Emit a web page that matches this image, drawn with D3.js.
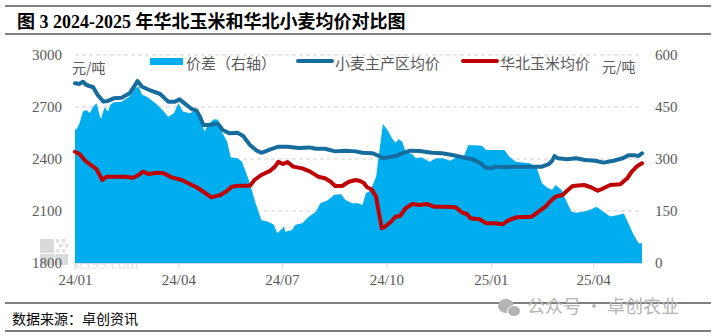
<!DOCTYPE html>
<html>
<head>
<meta charset="utf-8">
<script src="https://cdn.jsdelivr.net/npm/d3@7"></script>
<style>
  html, body { margin: 0; padding: 0; background: #fff; }
  svg { display: block; }
  text { font-family: "Liberation Serif", "Noto Sans CJK SC", serif; }
</style>
</head>
<body>
<svg id="chart" width="716" height="336"></svg>
<script>
// 小麦主产区均价 (元/吨, 左轴)
const wheat = [
  ["2024-01-01",2837],["2024-01-05",2833],["2024-01-08",2846],["2024-01-11",2827],["2024-01-17",2814],
  ["2024-01-21",2769],["2024-01-26",2731],["2024-01-30",2735],["2024-02-04",2750],["2024-02-11",2754],
  ["2024-02-18",2779],["2024-02-23",2827],["2024-02-25",2850],["2024-02-29",2817],["2024-03-08",2794],
  ["2024-03-16",2775],["2024-03-23",2731],["2024-03-29",2731],["2024-04-02",2744],["2024-04-08",2712],
  ["2024-04-13",2687],["2024-04-17",2679],["2024-04-20",2644],["2024-04-23",2596],["2024-04-29",2596],
  ["2024-05-03",2602],["2024-05-06",2602],["2024-05-10",2567],["2024-05-16",2548],["2024-05-23",2552],
  ["2024-05-28",2533],["2024-06-03",2481],["2024-06-09",2448],["2024-06-13",2436],["2024-06-21",2456],
  ["2024-06-28",2471],["2024-07-06",2471],["2024-07-16",2463],["2024-07-25",2467],["2024-07-31",2459],
  ["2024-08-08",2459],["2024-08-17",2444],["2024-08-26",2448],["2024-09-04",2444],["2024-09-10",2436],
  ["2024-09-19",2433],["2024-09-25",2417],["2024-09-28",2404],["2024-10-03",2410],["2024-10-09",2417],
  ["2024-10-15",2433],["2024-10-22",2448],["2024-10-30",2446],["2024-11-10",2436],["2024-11-19",2433],
  ["2024-11-28",2423],["2024-12-07",2410],["2024-12-16",2398],["2024-12-23",2375],["2024-12-27",2352],
  ["2025-01-01",2346],["2025-01-05",2356],["2025-01-12",2352],["2025-01-23",2356],["2025-02-03",2356],
  ["2025-02-15",2356],["2025-02-21",2371],["2025-02-24",2390],["2025-02-26",2417],["2025-03-01",2404],
  ["2025-03-09",2398],["2025-03-17",2404],["2025-03-25",2394],["2025-04-03",2390],["2025-04-10",2379],
  ["2025-04-19",2390],["2025-04-27",2404],["2025-05-02",2421],["2025-05-08",2421],["2025-05-11",2417],
  ["2025-05-14",2433]
];

// 华北玉米均价 (元/吨, 左轴)
const corn = [
  ["2024-01-01",2442],["2024-01-05",2429],["2024-01-10",2390],["2024-01-16",2360],["2024-01-20",2341],
  ["2024-01-25",2279],["2024-01-29",2298],["2024-02-05",2298],["2024-02-14",2298],["2024-02-21",2292],
  ["2024-02-26",2308],["2024-03-01",2327],["2024-03-06",2313],["2024-03-13",2321],["2024-03-19",2318],
  ["2024-03-26",2294],["2024-04-04",2279],["2024-04-11",2256],["2024-04-17",2237],["2024-04-23",2211],
  ["2024-04-30",2179],["2024-05-05",2187],["2024-05-08",2192],["2024-05-14",2217],["2024-05-18",2240],
  ["2024-05-24",2246],["2024-06-03",2246],["2024-06-07",2279],["2024-06-13",2308],["2024-06-21",2333],
  ["2024-06-25",2356],["2024-06-28",2384],["2024-07-02",2371],["2024-07-06",2383],["2024-07-11",2356],
  ["2024-07-19",2346],["2024-07-26",2327],["2024-08-02",2298],["2024-08-08",2289],["2024-08-13",2269],
  ["2024-08-17",2244],["2024-08-23",2244],["2024-08-29",2269],["2024-09-04",2279],["2024-09-07",2275],
  ["2024-09-11",2263],["2024-09-14",2237],["2024-09-18",2225],["2024-09-22",2183],["2024-09-24",2106],
  ["2024-09-27",2000],["2024-09-30",2010],["2024-10-05",2038],["2024-10-09",2067],["2024-10-13",2071],
  ["2024-10-18",2116],["2024-10-24",2140],["2024-10-30",2135],["2024-11-06",2140],["2024-11-12",2125],
  ["2024-11-22",2125],["2024-12-01",2121],["2024-12-07",2090],["2024-12-11",2083],["2024-12-14",2058],
  ["2024-12-22",2052],["2024-12-28",2029],["2025-01-05",2029],["2025-01-11",2023],["2025-01-17",2048],
  ["2025-01-24",2064],["2025-02-06",2067],["2025-02-12",2096],["2025-02-18",2125],["2025-02-22",2154],
  ["2025-02-27",2183],["2025-03-05",2192],["2025-03-09",2217],["2025-03-14",2244],["2025-03-24",2250],
  ["2025-03-30",2237],["2025-04-05",2217],["2025-04-10",2231],["2025-04-16",2250],["2025-04-25",2254],
  ["2025-05-01",2289],["2025-05-05",2327],["2025-05-10",2360],["2025-05-14",2375]
];

// 价差 (元/吨, 右轴)
const spread = [
  ["2024-01-01",389],["2024-01-02",384],["2024-01-05",403],["2024-01-08",437],["2024-01-11",441],
  ["2024-01-14",432],["2024-01-17",451],["2024-01-20",461],["2024-01-23",422],["2024-01-24",417],
  ["2024-01-27",449],["2024-01-30",437],["2024-02-01",456],["2024-02-04",464],["2024-02-11",465],
  ["2024-02-18",480],["2024-02-23",504],["2024-02-26",509],["2024-02-29",485],["2024-03-04",480],
  ["2024-03-12",461],["2024-03-18",441],["2024-03-23",422],["2024-03-28",432],["2024-04-01",461],
  ["2024-04-05",437],["2024-04-11",432],["2024-04-17",441],["2024-04-22",398],["2024-04-24",379],
  ["2024-04-27",398],["2024-05-02",415],["2024-05-06",413],["2024-05-09",379],["2024-05-14",350],
  ["2024-05-17",305],["2024-05-23",302],["2024-05-27",292],["2024-06-02",239],["2024-06-08",172],
  ["2024-06-13",124],["2024-06-19",119],["2024-06-24",110],["2024-06-27",86],["2024-06-30",95],
  ["2024-07-03",105],["2024-07-04",90],["2024-07-10",95],["2024-07-13",110],["2024-07-19",115],
  ["2024-07-25",134],["2024-07-31",148],["2024-08-04",172],["2024-08-10",180],["2024-08-16",196],
  ["2024-08-22",199],["2024-08-26",182],["2024-09-01",172],["2024-09-06",172],["2024-09-10",167],
  ["2024-09-13",201],["2024-09-17",209],["2024-09-22",249],["2024-09-25",326],["2024-09-28",401],
  ["2024-10-02",384],["2024-10-06",360],["2024-10-09",347],["2024-10-12",357],["2024-10-15",350],
  ["2024-10-18",321],["2024-10-24",314],["2024-10-27",302],["2024-11-01",305],["2024-11-04",299],
  ["2024-11-08",292],["2024-11-14",302],["2024-11-20",302],["2024-11-26",295],["2024-12-02",305],
  ["2024-12-08",305],["2024-12-12",340],["2024-12-18",340],["2024-12-24",338],["2024-12-28",326],
  ["2025-01-03",326],["2025-01-13",326],["2025-01-17",307],["2025-01-23",292],["2025-02-04",288],
  ["2025-02-10",278],["2025-02-15",230],["2025-02-20",216],["2025-02-24",211],["2025-02-27",225],
  ["2025-03-04",211],["2025-03-08",182],["2025-03-13",148],["2025-03-17",145],["2025-03-23",148],
  ["2025-03-29",153],["2025-04-04",162],["2025-04-10",148],["2025-04-16",134],["2025-04-22",138],
  ["2025-04-28",143],["2025-05-02",115],["2025-05-06",86],["2025-05-11",57],["2025-05-14",57]
];

const leftTicks = [1800, 2100, 2400, 2700, 3000];
const rightTicks = [0, 150, 300, 450, 600];
const monthTicks = ["2024-01-01","2024-04-01","2024-07-01","2024-10-01","2025-01-01","2025-04-01"];
const dateSpan = ["2024-01-01","2025-05-14"];

const titleText = "图 3 2024-2025 年华北玉米和华北小麦均价对比图";
const sourceText = "数据来源：卓创资讯";
const legendNames = ["价差（右轴）", "小麦主产区均价", "华北玉米均价"];
const unitText = "元/吨";

const parse = d3.utcParse("%Y-%m-%d");
const svg = d3.select("#chart");

const plot = { left: 75, right: 642, top: 55, bottom: 263 };

const x = d3.scaleUtc().domain(dateSpan.map(parse)).range([plot.left, plot.right]);
const yL = d3.scaleLinear().domain([1800, 3000]).range([plot.bottom, plot.top]);
const yR = d3.scaleLinear().domain([0, 600]).range([plot.bottom, plot.top]);

const colors = { spread: "#00AEEF", wheat: "#176C9E", corn: "#C00000" };

// frame rules
const rule = (y, w) => svg.append("line").attr("x1", 5).attr("x2", 711)
  .attr("y1", y).attr("y2", y).attr("stroke", "#000").attr("stroke-width", w);
rule(6, 1.2); rule(34, 1.2); rule(303, 1.2); rule(331, 1.2);

svg.append("text").attr("x", 17).attr("y", 28)
  .attr("font-size", 18).attr("font-weight", "bold").attr("fill", "#000")
  .text(titleText);

svg.append("text").attr("x", 12).attr("y", 324)
  .attr("font-size", 14).attr("fill", "#000")
  .style("font-family", "'Noto Sans CJK SC', sans-serif")
  .text(sourceText);

// grid lines
svg.append("g").selectAll("line")
  .data(leftTicks.filter(v => v > 1800)).join("line")
  .attr("x1", plot.left).attr("x2", plot.right - 2)
  .attr("y1", d => yL(d)).attr("y2", d => yL(d))
  .attr("stroke", "#d0d0d0").attr("stroke-dasharray", "4,3");

// site logo mark in the lower-left corner
const logo = svg.append("g").attr("opacity", 0.55);
logo.append("rect").attr("x", 40).attr("y", 239).attr("width", 14).attr("height", 14).attr("fill", "#bdbdbd");
logo.append("rect").attr("x", 40).attr("y", 254).attr("width", 14).attr("height", 11).attr("fill", "#bdbdbd");
logo.append("rect").attr("x", 55).attr("y", 254).attr("width", 13).attr("height", 11).attr("fill", "#bdbdbd");
[[56,239],[62,239],[59,244],[65,244],[56,249],[62,249]].forEach(([a,b]) =>
  logo.append("rect").attr("x", a).attr("y", b).attr("width", 3.5).attr("height", 3.5).attr("fill", "#c8c8c8"));
svg.append("text").attr("x", 73).attr("y", 269).attr("font-size", 16)
  .attr("fill", "#e4e4e4").text("sci99.com");

// spread area (right axis)
svg.append("path")
  .datum(spread.map(d => [parse(d[0]), d[1]]))
  .attr("fill", colors.spread)
  .attr("d", d3.area().x(d => x(d[0])).y0(yR(0)).y1(d => yR(d[1])));

// x axis
const xAxis = svg.append("g").attr("transform", `translate(0,${plot.bottom})`)
  .call(d3.axisBottom(x).tickValues(monthTicks.map(parse))
    .tickFormat(d3.utcFormat("%y/%m")).tickSize(5).tickPadding(6));
xAxis.select(".domain").attr("stroke", "#d9d9d9").attr("d", `M${plot.left},0.5H${plot.right}`);
xAxis.selectAll(".tick line").attr("stroke", "#d9d9d9");
xAxis.selectAll(".tick text").attr("font-size", 15).attr("fill", "#595959")
  .style("font-family", "'Liberation Serif', serif");

// left axis
const lAxis = svg.append("g").attr("transform", `translate(${plot.left},0)`)
  .call(d3.axisLeft(yL).tickValues(leftTicks).tickFormat(d3.format("d")).tickSize(0).tickPadding(13));
lAxis.select(".domain").remove();
lAxis.selectAll(".tick text").attr("font-size", 15).attr("fill", "#595959")
  .style("font-family", "'Liberation Serif', serif");

// right axis
const rAxis = svg.append("g").attr("transform", `translate(${plot.right},0)`)
  .call(d3.axisRight(yR).tickValues(rightTicks).tickFormat(d3.format("d")).tickSize(0).tickPadding(13));
rAxis.select(".domain").remove();
rAxis.selectAll(".tick text").attr("font-size", 15).attr("fill", "#595959")
  .style("font-family", "'Liberation Serif', serif");

// price lines
const line = d3.line().x(d => x(d[0])).y(d => yL(d[1]));
[["wheat", wheat], ["corn", corn]].forEach(([k, arr]) => {
  svg.append("path")
    .datum(arr.map(d => [parse(d[0]), d[1]]))
    .attr("fill", "none").attr("stroke", colors[k]).attr("stroke-width", 4)
    .attr("stroke-linejoin", "round").attr("stroke-linecap", "round")
    .attr("d", line);
});

// unit labels
svg.append("text").attr("x", 72).attr("y", 73).attr("font-size", 14).attr("fill", "#595959")
  .style("font-family", "'Noto Sans CJK SC', sans-serif").text(unitText);
svg.append("text").attr("x", 602).attr("y", 72).attr("font-size", 14).attr("fill", "#595959")
  .style("font-family", "'Noto Sans CJK SC', sans-serif").text(unitText);

// legend
const lg = svg.append("g").style("font-family", "'Noto Sans CJK SC', sans-serif");
lg.append("rect").attr("x", 150).attr("y", 58).attr("width", 33).attr("height", 7).attr("fill", colors.spread);
lg.append("text").attr("x", 186).attr("y", 69).attr("font-size", 15).attr("fill", "#595959").text(legendNames[0]);
lg.append("line").attr("x1", 298).attr("x2", 332).attr("y1", 61).attr("y2", 61)
  .attr("stroke", colors.wheat).attr("stroke-width", 4).attr("stroke-linecap", "round");
lg.append("text").attr("x", 335).attr("y", 69).attr("font-size", 15).attr("fill", "#595959").text(legendNames[1]);
lg.append("line").attr("x1", 463).attr("x2", 497).attr("y1", 61).attr("y2", 61)
  .attr("stroke", colors.corn).attr("stroke-width", 4).attr("stroke-linecap", "round");
lg.append("text").attr("x", 500).attr("y", 69).attr("font-size", 15).attr("fill", "#595959").text(legendNames[2]);

// account mark at the bottom right
const wm = svg.append("g").attr("fill", "#b4b4b4");
wm.append("ellipse").attr("cx", 506).attr("cy", 306).attr("rx", 8).attr("ry", 7);
wm.append("ellipse").attr("cx", 514).attr("cy", 311).attr("rx", 6.5).attr("ry", 5.5).attr("stroke", "#fff").attr("stroke-width", 1);
wm.append("text").attr("x", 527).attr("y", 313).attr("font-size", 18)
  .style("font-family", "'Noto Sans CJK SC', sans-serif").text("公众号 · 卓创农业");
</script>
</body>
</html>
